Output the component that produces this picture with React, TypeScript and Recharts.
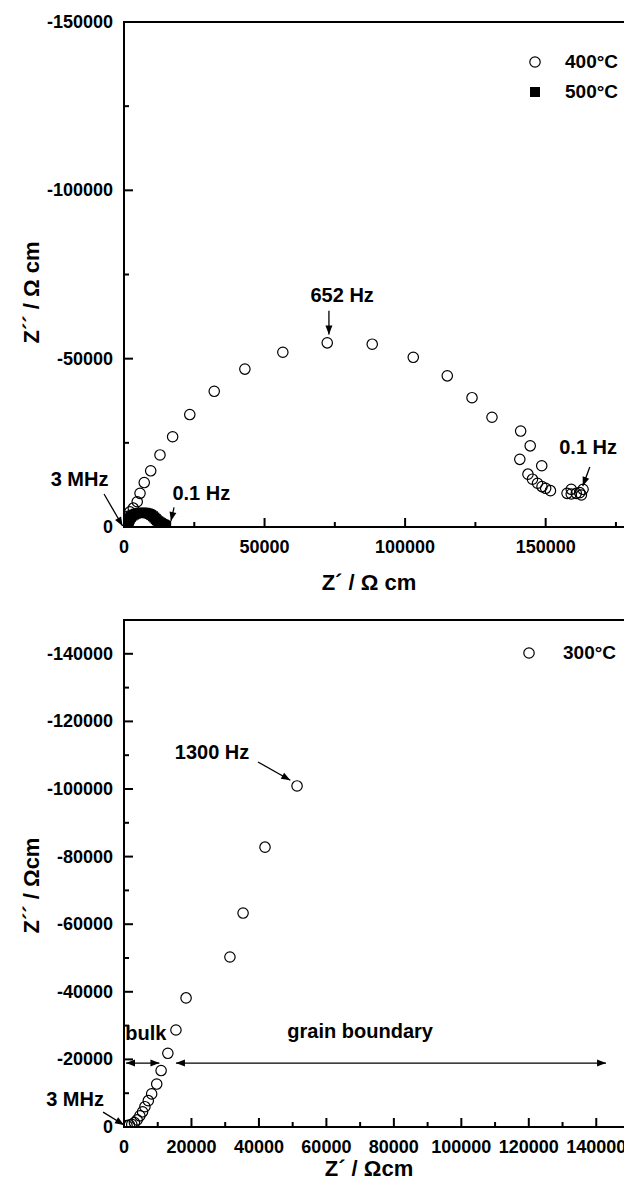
import React from "react";
import {
  Legend,
  ReferenceArea,
  ReferenceDot,
  ReferenceLine,
  Scatter,
  ScatterChart,
  XAxis,
  YAxis,
} from "recharts";

const FONT = '"Liberation Sans", Arial, Helvetica, sans-serif';

// Z' (x) and Z'' (y), in Ω cm
const z400: [number, number][] = [
  [900, -1800], [1400, -3200], [2100, -4500], [3300, -5600], [4700, -7500],
  [5700, -10000], [7200, -13200], [9500, -16700], [12800, -21400], [17300, -26800],
  [23400, -33400], [32100, -40300], [43000, -46900], [56500, -51900], [72300, -54700],
  [88300, -54300], [102900, -50400], [115000, -44900], [123800, -38400], [130900, -32600],
  [141100, -28500], [144500, -24100], [140800, -20100], [148600, -18200], [143700, -15700],
  [145300, -14200], [147100, -13000], [148700, -12000], [150000, -11500], [151700, -10800],
  [157600, -10000], [159100, -9800], [160900, -10000], [162100, -10200], [162700, -9500],
  [159100, -11200], [163300, -11200],
];

const z500: [number, number][] = [
  [1500, -200], [1500, -800], [1600, -1400], [1800, -2000], [2100, -2500],
  [2500, -3000], [3000, -3400], [3600, -3700], [4200, -3950], [4900, -4100],
  [5600, -4200], [6300, -4250], [7000, -4250], [7700, -4200], [8400, -4050],
  [9100, -3850], [9700, -3550], [10300, -3200], [10800, -2800], [11300, -2400],
  [11700, -2000], [12200, -1700], [12700, -1400], [13200, -1150], [13700, -900],
  [14200, -700], [14600, -500], [15000, -300],
];

const z300: [number, number][] = [
  [900, -400], [1600, -600], [2300, -800], [3100, -1300], [3900, -2100],
  [4700, -3300], [5500, -4500], [6200, -6000], [7200, -7800], [8200, -9800],
  [9700, -12700], [11000, -16700], [13000, -21800], [15400, -28700], [18400, -38200],
  [31400, -50300], [35300, -63300], [41800, -82800], [51300, -100900],
];

// axis ticks
const topXMajor = [0, 50000, 100000, 150000];
const topXMinor = [25000, 75000, 125000, 175000];
const topYMajor = [-150000, -100000, -50000, 0];
const topYMinor = [-125000, -75000, -25000];

const botXMajor = [0, 20000, 40000, 60000, 80000, 100000, 120000, 140000];
const botXMinor = [10000, 30000, 50000, 70000, 90000, 110000, 130000];
const botYMajor = [-140000, -120000, -100000, -80000, -60000, -40000, -20000, 0];
const botYMinor = [-130000, -110000, -90000, -70000, -50000, -30000, -10000];

// annotations (data coordinates)
const topNotes = [
  { text: "3 MHz", x: -15800, y: -14400 },
  { text: "0.1 Hz", x: 27500, y: -10000 },
  { text: "652 Hz", x: 77600, y: -68900 },
  { text: "0.1 Hz", x: 165100, y: -23900 },
];
const topArrows = [
  { x1: -7100, y1: -9800, x2: -500, y2: -300, both: false },
  { x1: 17800, y1: -5800, x2: 16700, y2: -1800, both: false },
  { x1: 72900, y1: -64200, x2: 72900, y2: -57200, both: false },
  { x1: 165700, y1: -17800, x2: 163200, y2: -12200, both: false },
];
const botNotes = [
  { text: "3 MHz", x: -14500, y: -8300 },
  { text: "1300 Hz", x: 26100, y: -110900 },
  { text: "bulk", x: 6500, y: -27700 },
  { text: "grain boundary", x: 70000, y: -28400 },
];
const botArrows = [
  { x1: -6200, y1: -4400, x2: 0, y2: -600, both: false },
  { x1: 39700, y1: -108000, x2: 49300, y2: -102600, both: false },
  { x1: 600, y1: -18900, x2: 10500, y2: -18900, both: true },
  { x1: 15400, y1: -18900, x2: 142900, y2: -18900, both: true },
];

const toPoints = (rows: [number, number][]) => rows.map(([x, y]) => ({ x, y }));

const OpenCircle = (p: any) => (
  <circle cx={p.cx} cy={p.cy} r={5.2} fill="none" stroke="#000" strokeWidth={1.2} />
);
const FilledSquare = (p: any) => (
  <rect x={p.cx - 5} y={p.cy - 5} width={10} height={10} fill="#000" />
);

function head(x: number, y: number, ang: number) {
  const len = 9;
  const hw = 3.5;
  const bx = x - len * Math.cos(ang);
  const by = y - len * Math.sin(ang);
  const nx = -Math.sin(ang) * hw;
  const ny = Math.cos(ang) * hw;
  return `${x},${y} ${bx + nx},${by + ny} ${bx - nx},${by - ny}`;
}

const arrowShape = (both: boolean) => (p: any) => {
  const { x1, y1, x2, y2 } = p;
  const ang = Math.atan2(y2 - y1, x2 - x1);
  return (
    <g>
      <line x1={x1} y1={y1} x2={x2} y2={y2} stroke="#000" strokeWidth={1.3} />
      <polygon points={head(x2, y2, ang)} fill="#000" />
      {both && <polygon points={head(x1, y1, ang + Math.PI)} fill="#000" />}
    </g>
  );
};

const noteShape = (text: string) => (p: any) => (
  <text
    x={p.cx}
    y={p.cy}
    textAnchor="middle"
    dominantBaseline="central"
    fontFamily={FONT}
    fontWeight="bold"
    fontSize={20}
    fill="#000"
  >
    {text}
  </text>
);

const makeXTick = (majors: number[]) => (p: any) => {
  const { x, y, payload } = p;
  const major = majors.includes(payload.value);
  return (
    <g>
      <line x1={x} y1={y} x2={x} y2={y - (major ? 9 : 5)} stroke="#000" strokeWidth={2} />
      {major && (
        <text x={x} y={y + 20} textAnchor="middle" dominantBaseline="central"
          fontFamily={FONT} fontWeight="bold" fontSize={18} fill="#000">
          {payload.value}
        </text>
      )}
    </g>
  );
};

const makeYTick = (majors: number[]) => (p: any) => {
  const { x, y, payload } = p;
  const major = majors.includes(payload.value);
  return (
    <g>
      <line x1={x} y1={y} x2={x + (major ? 9 : 5)} y2={y} stroke="#000" strokeWidth={2} />
      {major && (
        <text x={x - 11} y={y} textAnchor="end" dominantBaseline="central"
          fontFamily={FONT} fontWeight="bold" fontSize={18} fill="#000">
          {payload.value}
        </text>
      )}
    </g>
  );
};

const xTitle = (text: string, dy: number) => (p: any) => {
  const vb = p.viewBox;
  return (
    <text x={vb.x + vb.width / 2 - 8} y={vb.y + dy} textAnchor="middle" dominantBaseline="central"
      fontFamily={FONT} fontWeight="bold" fontSize={22} fill="#000">
      {text}
    </text>
  );
};

const yTitle = (text: string, dy: number) => (p: any) => {
  const vb = p.viewBox;
  const cx = vb.x + 23;
  const cy = vb.y + vb.height / 2 + dy;
  return (
    <text x={cx} y={cy} transform={`rotate(-90, ${cx}, ${cy})`} textAnchor="middle"
      dominantBaseline="central" fontFamily={FONT} fontWeight="bold" fontSize={22} fill="#000">
      {text}
    </text>
  );
};

type LegendItem = { label: string; kind: "circle" | "square" };

const legendContent = (items: LegendItem[], gap: number) => () => (
  <div style={{ fontFamily: FONT, fontWeight: "bold", fontSize: 19, color: "#000" }}>
    {items.map((it) => (
      <div key={it.label} style={{ display: "flex", alignItems: "center", height: 30 }}>
        <svg width={14} height={14} style={{ marginRight: gap }}>
          {it.kind === "circle" ? (
            <circle cx={7} cy={7} r={5.2} fill="none" stroke="#000" strokeWidth={1.2} />
          ) : (
            <rect x={2} y={2} width={10} height={10} fill="#000" />
          )}
        </svg>
        <span>{it.label}</span>
      </div>
    ))}
  </div>
);

type Series = { name: string; rows: [number, number][]; shape: (p: any) => any };
type Note = { text: string; x: number; y: number };
type Arrow = { x1: number; y1: number; x2: number; y2: number; both: boolean };

function Panel(props: {
  height: number;
  top: number;
  xMax: number;
  xMajor: number[];
  xMinor: number[];
  yMajor: number[];
  yMinor: number[];
  xLabel: string;
  xLabelDy: number;
  yLabel: string;
  yLabelDy: number;
  series: Series[];
  notes: Note[];
  arrows: Arrow[];
  legend: LegendItem[];
  legendPos: { left: number; top: number; gap: number };
}) {
  const p = props;
  const xAxisHeight = p.height - p.top - 505 - (p.top === 12 ? 2 : 0);
  return (
    <ScatterChart
      width={624}
      height={p.height}
      margin={{ top: p.top, right: 2, bottom: 0, left: 0 }}
    >
      <XAxis
        type="number"
        dataKey="x"
        domain={[0, p.xMax]}
        allowDataOverflow
        ticks={[...p.xMajor, ...p.xMinor].sort((a, b) => a - b)}
        interval={0}
        height={xAxisHeight}
        axisLine={false}
        tickLine={false}
        tickSize={0}
        tickMargin={0}
        tick={makeXTick(p.xMajor)}
        label={{ content: xTitle(p.xLabel, p.xLabelDy) }}
      />
      <YAxis
        type="number"
        dataKey="y"
        domain={[-150000, 0]}
        reversed
        allowDataOverflow
        ticks={[...p.yMajor, ...p.yMinor].sort((a, b) => a - b)}
        interval={0}
        width={116}
        axisLine={false}
        tickLine={false}
        tickSize={0}
        tickMargin={0}
        tick={makeYTick(p.yMajor)}
        label={{ content: yTitle(p.yLabel, p.yLabelDy) }}
      />
      <ReferenceArea
        x1={0}
        x2={p.xMax}
        y1={-150000}
        y2={0}
        ifOverflow="visible"
        fill="none"
        stroke="#000"
        strokeWidth={2}
      />
      {p.series.map((s) => (
        <Scatter
          key={s.name}
          name={s.name}
          data={toPoints(s.rows)}
          shape={s.shape}
          isAnimationActive={false}
        />
      ))}
      {p.arrows.map((a, i) => (
        <ReferenceLine
          key={`a${i}`}
          segment={[{ x: a.x1, y: a.y1 }, { x: a.x2, y: a.y2 }]}
          ifOverflow="visible"
          shape={arrowShape(a.both)}
        />
      ))}
      {p.notes.map((n, i) => (
        <ReferenceDot
          key={`n${i}`}
          x={n.x}
          y={n.y}
          r={0}
          ifOverflow="visible"
          shape={noteShape(n.text)}
        />
      ))}
      <Legend
        align="center"
        verticalAlign="middle"
        content={legendContent(p.legend, p.legendPos.gap)}
        wrapperStyle={{ left: p.legendPos.left, top: p.legendPos.top, width: "auto", height: "auto" }}
      />
    </ScatterChart>
  );
}

export default function App() {
  return (
    <div style={{ width: 624 }}>
      <Panel
        height={600}
        top={14}
        xMax={180000}
        xMajor={topXMajor}
        xMinor={topXMinor}
        yMajor={topYMajor}
        yMinor={topYMinor}
        xLabel="Z´ / Ω cm"
        xLabelDy={55}
        yLabel="Z´´ / Ω cm"
        yLabelDy={18}
        series={[
          { name: "400°C", rows: z400, shape: OpenCircle },
          { name: "500°C", rows: z500, shape: FilledSquare },
        ]}
        notes={topNotes}
        arrows={topArrows}
        legend={[
          { label: "400°C", kind: "circle" },
          { label: "500°C", kind: "square" },
        ]}
        legendPos={{ left: 520, top: 39, gap: 23 }}
      />
      <Panel
        height={581}
        top={12}
        xMax={150000}
        xMajor={botXMajor}
        xMinor={botXMinor}
        yMajor={botYMajor}
        yMinor={botYMinor}
        xLabel="Z´ / Ωcm"
        xLabelDy={41}
        yLabel="Z´´ / Ωcm"
        yLabelDy={12}
        series={[{ name: "300°C", rows: z300, shape: OpenCircle }]}
        notes={botNotes}
        arrows={botArrows}
        legend={[{ label: "300°C", kind: "circle" }]}
        legendPos={{ left: 514, top: 30, gap: 27 }}
      />
    </div>
  );
}
